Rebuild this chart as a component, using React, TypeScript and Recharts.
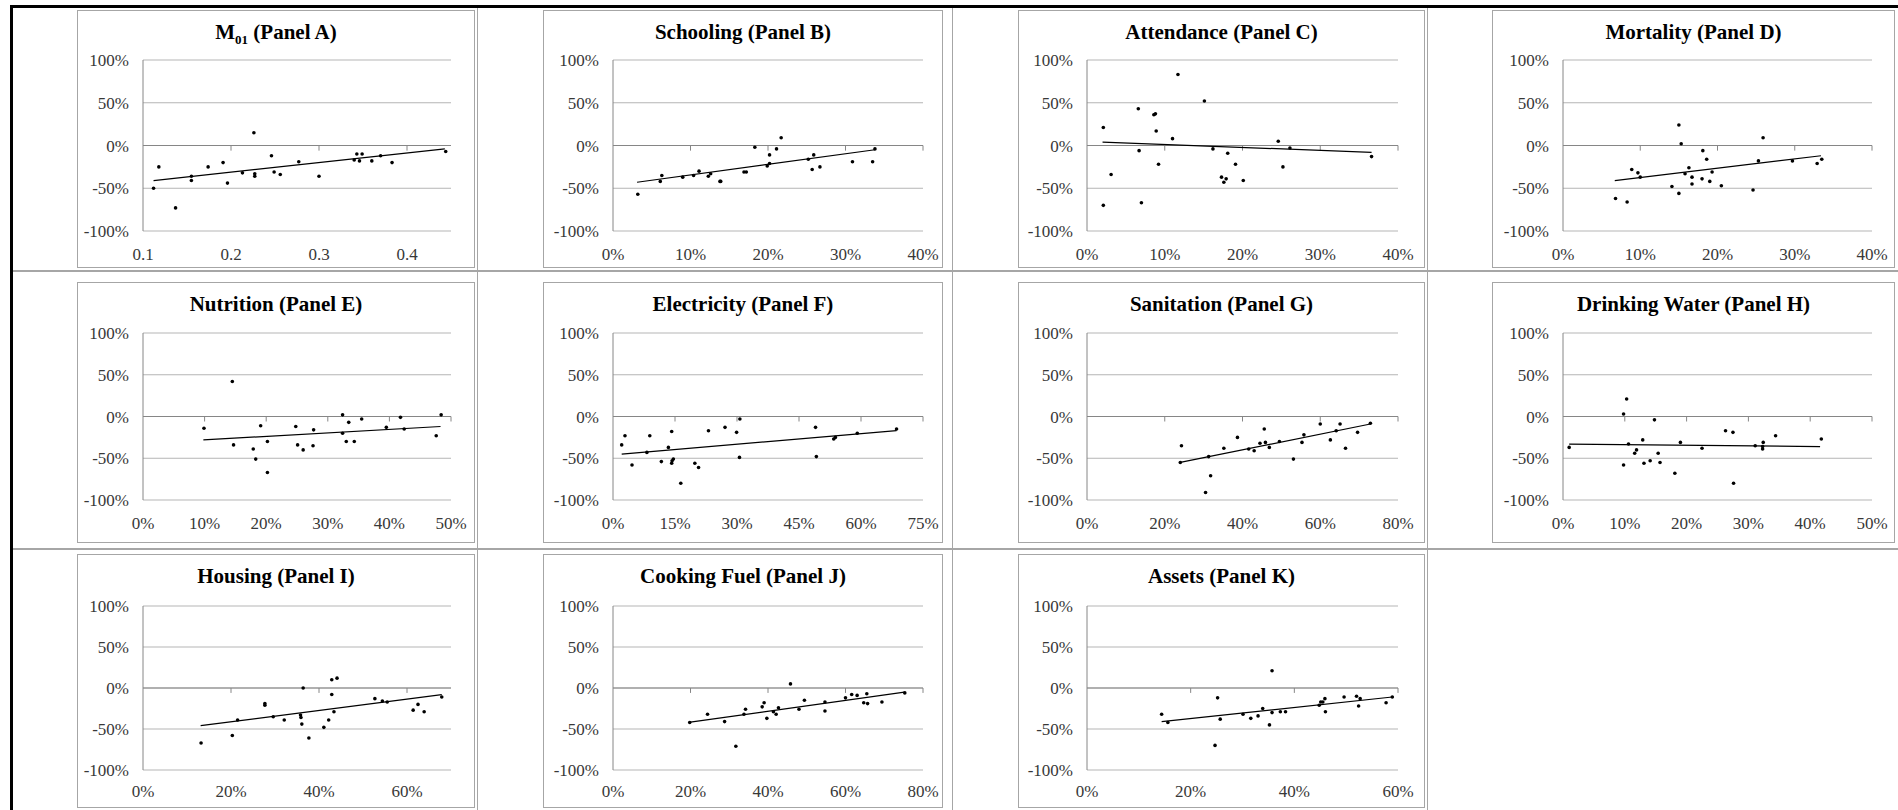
import React from "react";
import { ScatterChart, Scatter, XAxis, YAxis, CartesianGrid, ReferenceLine } from "recharts";

const FONT = '"Liberation Serif", "DejaVu Serif", serif';

// points are [x, y] pairs, trend = endpoints of the fitted line
const m01Points = [
  [0.112, -0.5], [0.118, -0.25], [0.137, -0.73], [0.155, -0.36], [0.155, -0.41], [0.174, -0.25],
  [0.191, -0.2], [0.196, -0.44], [0.213, -0.32], [0.226, 0.15], [0.227, -0.33], [0.227, -0.36],
  [0.246, -0.12], [0.249, -0.31], [0.256, -0.34], [0.277, -0.19], [0.3, -0.36], [0.34, -0.17],
  [0.343, -0.1], [0.346, -0.18], [0.349, -0.1], [0.36, -0.18], [0.37, -0.12], [0.383, -0.2], [0.444, -0.07],
];
const m01Trend = [[0.112, -0.41], [0.443, -0.04]];

const schoolingPoints = [
  [0.032, -0.57], [0.061, -0.42], [0.063, -0.35], [0.09, -0.37], [0.104, -0.35], [0.111, -0.3],
  [0.123, -0.36], [0.126, -0.33], [0.138, -0.42], [0.139, -0.42], [0.169, -0.31], [0.172, -0.31],
  [0.183, -0.02], [0.199, -0.24], [0.202, -0.11], [0.202, -0.21], [0.211, -0.04], [0.217, 0.09],
  [0.252, -0.16], [0.257, -0.28], [0.259, -0.11], [0.267, -0.25], [0.309, -0.19], [0.335, -0.19], [0.338, -0.04],
];
const schoolingTrend = [[0.031, -0.43], [0.338, -0.05]];

const attendancePoints = [
  [0.021, 0.21], [0.021, -0.7], [0.031, -0.34], [0.066, 0.43], [0.067, -0.06], [0.07, -0.67],
  [0.086, 0.36], [0.088, 0.37], [0.089, 0.17], [0.092, -0.22], [0.11, 0.08], [0.117, 0.83],
  [0.151, 0.52], [0.162, -0.04], [0.173, -0.37], [0.176, -0.43], [0.179, -0.39], [0.181, -0.09],
  [0.191, -0.22], [0.201, -0.41], [0.246, 0.05], [0.252, -0.25], [0.261, -0.03], [0.366, -0.13],
];
const attendanceTrend = [[0.02, 0.04], [0.366, -0.08]];

const mortalityPoints = [
  [0.068, -0.62], [0.083, -0.66], [0.089, -0.28], [0.097, -0.32], [0.1, -0.37], [0.141, -0.48],
  [0.15, 0.24], [0.15, -0.56], [0.153, 0.02], [0.158, -0.33], [0.163, -0.26], [0.167, -0.37],
  [0.167, -0.45], [0.18, -0.39], [0.181, -0.06], [0.186, -0.16], [0.19, -0.42], [0.193, -0.31],
  [0.205, -0.47], [0.246, -0.52], [0.253, -0.18], [0.259, 0.09], [0.297, -0.18], [0.329, -0.21], [0.335, -0.16],
];
const mortalityTrend = [[0.067, -0.41], [0.334, -0.12]];

const nutritionPoints = [
  [0.099, -0.14], [0.145, 0.42], [0.147, -0.34], [0.179, -0.39], [0.183, -0.51], [0.191, -0.11],
  [0.202, -0.3], [0.202, -0.67], [0.248, -0.12], [0.251, -0.34], [0.26, -0.4], [0.277, -0.16],
  [0.276, -0.35], [0.324, 0.02], [0.324, -0.2], [0.33, -0.3], [0.334, -0.07], [0.343, -0.3],
  [0.355, -0.03], [0.395, -0.13], [0.418, -0.01], [0.424, -0.15], [0.476, -0.23], [0.484, 0.02],
];
const nutritionTrend = [[0.098, -0.28], [0.483, -0.12]];

const electricityPoints = [
  [0.021, -0.34], [0.029, -0.23], [0.046, -0.58], [0.082, -0.43], [0.089, -0.23], [0.117, -0.54],
  [0.134, -0.37], [0.142, -0.56], [0.142, -0.18], [0.143, -0.53], [0.146, -0.51], [0.164, -0.8],
  [0.198, -0.56], [0.207, -0.61], [0.231, -0.17], [0.271, -0.13], [0.299, -0.19], [0.306, -0.49],
  [0.307, -0.03], [0.49, -0.13], [0.492, -0.48], [0.534, -0.27], [0.538, -0.25], [0.591, -0.2], [0.686, -0.15],
];
const electricityTrend = [[0.021, -0.45], [0.686, -0.17]];

const sanitationPoints = [
  [0.24, -0.55], [0.243, -0.35], [0.305, -0.91], [0.313, -0.48], [0.318, -0.71], [0.352, -0.38],
  [0.387, -0.25], [0.416, -0.39], [0.43, -0.41], [0.445, -0.32], [0.456, -0.15], [0.459, -0.31],
  [0.469, -0.37], [0.495, -0.3], [0.531, -0.51], [0.553, -0.31], [0.558, -0.22], [0.6, -0.09],
  [0.626, -0.28], [0.641, -0.17], [0.651, -0.09], [0.665, -0.38], [0.696, -0.19], [0.729, -0.08],
];
const sanitationTrend = [[0.24, -0.55], [0.729, -0.09]];

const waterPoints = [
  [0.01, -0.37], [0.098, -0.58], [0.098, 0.03], [0.103, 0.21], [0.106, -0.33], [0.116, -0.44],
  [0.119, -0.4], [0.129, -0.28], [0.131, -0.56], [0.141, -0.53], [0.148, -0.04], [0.154, -0.44],
  [0.157, -0.55], [0.181, -0.68], [0.19, -0.31], [0.225, -0.38], [0.263, -0.17], [0.275, -0.19],
  [0.276, -0.8], [0.311, -0.35], [0.323, -0.36], [0.323, -0.39], [0.324, -0.31], [0.344, -0.23], [0.418, -0.27],
];
const waterTrend = [[0.01, -0.33], [0.416, -0.36]];

const housingPoints = [
  [0.132, -0.67], [0.203, -0.58], [0.215, -0.39], [0.277, -0.19], [0.277, -0.21], [0.296, -0.35],
  [0.321, -0.39], [0.358, -0.33], [0.359, -0.36], [0.361, -0.44], [0.364, 0.0], [0.377, -0.61],
  [0.411, -0.48], [0.422, -0.39], [0.429, 0.1], [0.429, -0.08], [0.434, -0.29], [0.441, 0.12],
  [0.527, -0.13], [0.544, -0.16], [0.555, -0.17], [0.614, -0.27], [0.625, -0.2], [0.639, -0.29], [0.679, -0.11],
];
const housingTrend = [[0.131, -0.46], [0.679, -0.08]];

const fuelPoints = [
  [0.198, -0.42], [0.244, -0.32], [0.288, -0.41], [0.317, -0.71], [0.338, -0.32], [0.342, -0.26],
  [0.385, -0.23], [0.39, -0.18], [0.397, -0.37], [0.414, -0.29], [0.421, -0.32], [0.427, -0.24],
  [0.458, 0.05], [0.48, -0.26], [0.494, -0.15], [0.547, -0.17], [0.547, -0.28], [0.6, -0.12],
  [0.616, -0.08], [0.63, -0.09], [0.647, -0.18], [0.655, -0.07], [0.657, -0.19], [0.694, -0.17], [0.753, -0.06],
];
const fuelTrend = [[0.195, -0.42], [0.752, -0.05]];

const assetsPoints = [
  [0.144, -0.32], [0.156, -0.42], [0.247, -0.7], [0.252, -0.12], [0.257, -0.38], [0.301, -0.32],
  [0.316, -0.37], [0.33, -0.34], [0.339, -0.25], [0.352, -0.45], [0.357, 0.21], [0.357, -0.3],
  [0.373, -0.29], [0.383, -0.29], [0.448, -0.21], [0.451, -0.17], [0.455, -0.17], [0.459, -0.13],
  [0.46, -0.29], [0.496, -0.11], [0.52, -0.1], [0.524, -0.22], [0.527, -0.13], [0.577, -0.18], [0.589, -0.11],
];
const assetsTrend = [[0.144, -0.41], [0.589, -0.11]];

const yTicks = [-1, -0.5, 0, 0.5, 1];
const ticksM01 = [0.1, 0.2, 0.3, 0.4];
const ticks40 = [0, 0.1, 0.2, 0.3, 0.4];
const ticks50 = [0, 0.1, 0.2, 0.3, 0.4, 0.5];
const ticks75 = [0, 0.15, 0.3, 0.45, 0.6, 0.75];
const ticks80 = [0, 0.2, 0.4, 0.6, 0.8];
const ticks60 = [0, 0.2, 0.4, 0.6];

const pct = (v: number) => `${Math.round(v * 100)}%`;
const dec = (v: number) => v.toFixed(1);

const panels = [
  { title: <>M<sub style={{ fontSize: 13 }}>01</sub> (Panel A)</>, pts: m01Points, trend: m01Trend, dom: [0.1, 0.45], ticks: ticksM01, fmt: dec },
  { title: "Schooling (Panel B)", pts: schoolingPoints, trend: schoolingTrend, dom: [0, 0.4], ticks: ticks40, fmt: pct },
  { title: "Attendance (Panel C)", pts: attendancePoints, trend: attendanceTrend, dom: [0, 0.4], ticks: ticks40, fmt: pct },
  { title: "Mortality (Panel D)", pts: mortalityPoints, trend: mortalityTrend, dom: [0, 0.4], ticks: ticks40, fmt: pct },
  { title: "Nutrition (Panel E)", pts: nutritionPoints, trend: nutritionTrend, dom: [0, 0.5], ticks: ticks50, fmt: pct },
  { title: "Electricity (Panel F)", pts: electricityPoints, trend: electricityTrend, dom: [0, 0.75], ticks: ticks75, fmt: pct },
  { title: "Sanitation (Panel G)", pts: sanitationPoints, trend: sanitationTrend, dom: [0, 0.8], ticks: ticks80, fmt: pct },
  { title: "Drinking Water (Panel H)", pts: waterPoints, trend: waterTrend, dom: [0, 0.5], ticks: ticks50, fmt: pct },
  { title: "Housing (Panel I)", pts: housingPoints, trend: housingTrend, dom: [0, 0.7], ticks: ticks60, fmt: pct },
  { title: "Cooking Fuel (Panel J)", pts: fuelPoints, trend: fuelTrend, dom: [0, 0.8], ticks: ticks80, fmt: pct },
  { title: "Assets (Panel K)", pts: assetsPoints, trend: assetsTrend, dom: [0, 0.6], ticks: ticks60, fmt: pct },
];

// page layout
const colLeft = [77, 543, 1018, 1492];
const colWidth = [398, 400, 407, 403];
const yAxisW = [65, 69, 68, 70];
const rightPad = [23, 19, 26, 22];
const rowTop = [10, 282, 554];
const rowHeight = [258, 261, 254];
const topPad = [49, 50, 51];
const bottomPad = [8, 14, 9];
const xLabelGap = [17, 17, 15];

const Dot = (p: any) => <circle cx={p.cx} cy={p.cy} r={1.8} fill="#000" />;
const NoDot = () => <g />;

function Panel({ def, row, col }: { def: any; row: number; col: number }) {
  const data = def.pts.map(([x, y]: number[]) => ({ x, y }));
  const trend = def.trend.map(([x, y]: number[]) => ({ x, y }));
  const tickStyle = { fontSize: 17, fill: "#383838", fontFamily: FONT };
  return (
    <div
      style={{
        position: "absolute",
        left: colLeft[col],
        top: rowTop[row],
        width: colWidth[col] - 2,
        height: rowHeight[row] - 2,
        border: "1px solid #a6a6a6",
        background: "#fff",
      }}
    >
      <div
        style={{
          position: "absolute",
          left: 0,
          right: 0,
          top: 9,
          height: 24,
          lineHeight: "24px",
          textAlign: "center",
          fontFamily: FONT,
          fontWeight: 700,
          fontSize: 21,
          color: "#000",
          zIndex: 2,
        }}
      >
        {def.title}
      </div>
      <ScatterChart
        width={colWidth[col] - 2}
        height={rowHeight[row] - 2}
        margin={{ top: topPad[row], right: rightPad[col], bottom: bottomPad[row], left: 0 }}
      >
        <CartesianGrid horizontal vertical={false} stroke="#b5b5b5" />
        <XAxis
          type="number"
          dataKey="x"
          domain={def.dom}
          ticks={def.ticks}
          allowDataOverflow
          tickFormatter={def.fmt}
          axisLine={false}
          tickLine={false}
          tickSize={0}
          tickMargin={xLabelGap[row]}
          height={28}
          interval={0}
          tick={tickStyle}
        />
        <YAxis
          type="number"
          dataKey="y"
          domain={[-1, 1]}
          ticks={yTicks}
          allowDataOverflow
          tickFormatter={pct}
          axisLine={{ stroke: "#868686" }}
          tickLine={false}
          tickSize={0}
          tickMargin={14}
          width={yAxisW[col]}
          interval={0}
          tick={tickStyle}
        />
        <ReferenceLine y={0} stroke="#868686" />
        {def.ticks.slice(1).map((t: number) => (
          <ReferenceLine
            key={t}
            segment={[{ x: t, y: 0 }, { x: t, y: -0.06 }]}
            stroke="#868686"
          />
        ))}
        <Scatter data={data} shape={Dot} isAnimationActive={false} />
        <Scatter
          data={trend}
          shape={NoDot}
          line={{ stroke: "#000", strokeWidth: 1.2 }}
          isAnimationActive={false}
        />
      </ScatterChart>
    </div>
  );
}

export default function App() {
  return (
    <div
      style={{
        position: "absolute",
        left: 0,
        top: 0,
        width: 1898,
        height: 810,
        background: "#fff",
        overflow: "hidden",
      }}
    >
      {/* table frame */}
      <div style={{ position: "absolute", left: 10, top: 5, width: 1888, height: 3, background: "#000" }} />
      <div style={{ position: "absolute", left: 10, top: 5, width: 3, height: 805, background: "#000" }} />
      {[477, 952, 1427].map((x) => (
        <div key={x} style={{ position: "absolute", left: x, top: 8, width: 1, height: 802, background: "#a6a6a6" }} />
      ))}
      {[270, 548].map((y) => (
        <div key={y} style={{ position: "absolute", left: 13, top: y, width: 1885, height: 2, background: "#a6a6a6" }} />
      ))}
      {panels.map((def, i) => (
        <Panel key={i} def={def} row={Math.floor(i / 4)} col={i % 4} />
      ))}
    </div>
  );
}
